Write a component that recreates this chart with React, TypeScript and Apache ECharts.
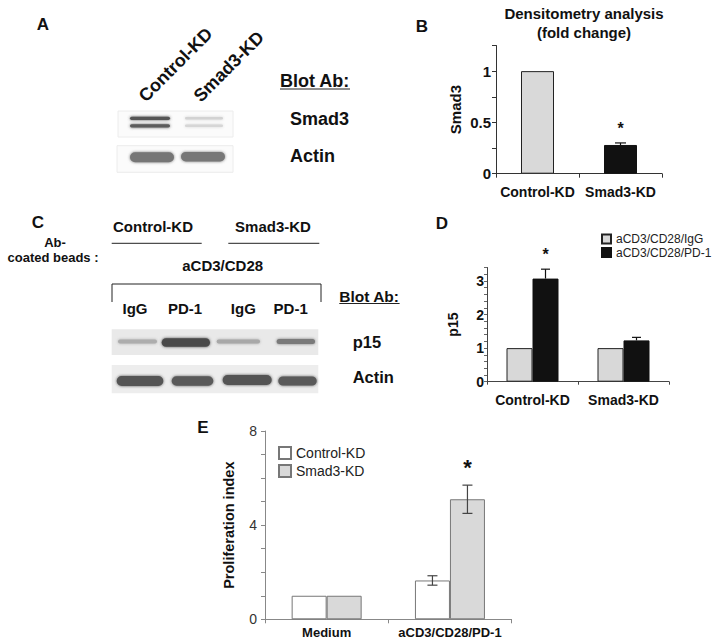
import React, { useEffect, useRef } from "react";
import * as echarts from "echarts";

// ---------- DATA ----------
const bCategories = ["Control-KD", "Smad3-KD"];
const bValues = [1, 0.28];
const bErrors = [0, 0.02];
const bSig = [false, true];
const bTickLabels = [0, 0.5, 1];

const dCategories = ["Control-KD", "Smad3-KD"];
const dSeriesNames = ["aCD3/CD28/IgG", "aCD3/CD28/PD-1"];
const dIgG = [1, 1];
const dPD1 = [3.07, 1.23];
const dPD1Err = [0.28, 0.09];
const dPD1Sig = [true, false];
const dTickLabels = [0, 1, 2, 3];

const eCategories = ["Medium", "aCD3/CD28/PD-1"];
const eSeriesNames = ["Control-KD", "Smad3-KD"];
const eControl = [1, 1.65];
const eControlErr = [0, 0.2];
const eSmad3 = [1, 5.1];
const eSmad3Err = [0, 0.6];
const eSmad3Sig = [false, true];
const eTickLabels = [0, 4, 8];

const FF = '"Liberation Sans", Arial, Helvetica, sans-serif';

const labelOnly = (ticks: number[]) => (v: number) =>
  ticks.some((t) => Math.abs(t - v) < 1e-6) ? String(Math.round(v * 100) / 100) : "";

function errRenderer(barW: number, n: number, both: boolean, cap: number, color: string, starSize: number, starGap: number) {
  return (params: any, api: any) => {
    const cat = api.value(0);
    const val = api.value(1);
    const err = api.value(2);
    const gi = api.value(3);
    const sig = api.value(4);
    const base = api.coord([cat, val]);
    const x = base[0] + (gi - (n - 1) / 2) * barW;
    const yTop = api.coord([cat, val + err])[1];
    const yBot = both ? api.coord([cat, val - err])[1] : base[1];
    const children: any[] = [];
    const ls = { stroke: color, lineWidth: 1.2 };
    if (err > 0) {
      children.push({ type: "line", shape: { x1: x, y1: yTop, x2: x, y2: yBot }, style: ls });
      children.push({ type: "line", shape: { x1: x - cap / 2, y1: yTop, x2: x + cap / 2, y2: yTop }, style: ls });
      if (both)
        children.push({ type: "line", shape: { x1: x - cap / 2, y1: yBot, x2: x + cap / 2, y2: yBot }, style: ls });
    }
    if (sig) {
      children.push({
        type: "text",
        x,
        y: yTop - starGap,
        style: {
          text: "*",
          textAlign: "center",
          textVerticalAlign: "middle",
          fontSize: starSize,
          fontWeight: "bold",
          fontFamily: FF,
          fill: "#111",
        },
      });
    }
    return { type: "group", children };
  };
}

function txt(text: string, x: number, y: number, size: number, opts: any = {}) {
  return {
    type: "text",
    x,
    y,
    rotation: opts.rotation || 0,
    z: 10,
    style: {
      text,
      fontSize: size,
      fontWeight: opts.weight || "bold",
      fontFamily: FF,
      fill: opts.fill || "#111",
      textAlign: opts.align || "center",
      textVerticalAlign: opts.valign || "middle",
    },
  };
}

function hline(x1: number, x2: number, y: number, color = "#222", w = 1) {
  return { type: "line", z: 10, shape: { x1, y1: y, x2, y2: y }, style: { stroke: color, lineWidth: w } };
}

function box(x: number, y: number, w: number, h: number, fill: string, stroke?: string) {
  return {
    type: "rect",
    z: 1,
    shape: { x, y, width: w, height: h },
    style: { fill, stroke: stroke || null, lineWidth: stroke ? 1 : 0 },
  };
}

function band(x1: number, x2: number, yc: number, h: number, color: string) {
  return {
    type: "rect",
    z: 2,
    shape: { x: x1, y: yc - h / 2, width: x2 - x1, height: h, r: h / 2 },
    style: { fill: color, shadowBlur: 3, shadowColor: color },
  };
}

function buildOption() {
  const graphics: any[] = [
    // panel letters
    txt("A", 43, 24, 17),
    txt("B", 422, 26, 17),
    txt("C", 38, 222, 17),
    txt("D", 442, 223, 17),
    txt("E", 203, 427, 17),
    // B title
    txt("Densitometry analysis", 584, 13, 15),
    txt("(fold change)", 584, 32, 15),
    // Panel A
    txt("Control-KD", 148, 105, 18, { align: "left", valign: "bottom", rotation: Math.PI / 4 }),
    txt("Smad3-KD", 203, 105, 18, { align: "left", valign: "bottom", rotation: Math.PI / 4 }),
    box(118, 111, 115, 26, "#fbfbfb", "#ececec"),
    band(130, 170, 118.3, 3.2, "#555"),
    band(130, 170, 125.8, 3.2, "#5c5c5c"),
    band(185, 223, 118.3, 2.6, "#d2d2d2"),
    band(185, 223, 125.8, 2.6, "#d6d6d6"),
    box(117, 145.7, 116, 26.6, "#fbfbfb", "#ececec"),
    band(130, 174, 157.3, 10, "#767676"),
    band(181, 225, 156.7, 9.5, "#777"),
    txt("Blot Ab:", 280, 81, 18, { align: "left" }),
    hline(280, 350, 89, "#222", 1.2),
    txt("Smad3", 290, 119.3, 18, { align: "left" }),
    txt("Actin", 290, 156, 18, { align: "left" }),
    // Panel C
    txt("Ab-", 55, 242, 13),
    txt("coated beads :", 53, 257.5, 13),
    txt("Control-KD", 153, 226, 15),
    txt("Smad3-KD", 273, 226, 15),
    hline(111.7, 201.7, 243.3),
    hline(228.3, 319.3, 243.3),
    txt("aCD3/CD28", 222.7, 265.7, 15),
    {
      type: "polyline",
      z: 10,
      shape: { points: [[112, 302], [112, 284], [321, 284], [321, 302]] },
      style: { stroke: "#222", lineWidth: 1, fill: null },
    },
    txt("IgG", 135, 308.3, 15),
    txt("PD-1", 185, 308.3, 15),
    txt("IgG", 243.3, 308.3, 15),
    txt("PD-1", 290.7, 308.3, 15),
    box(111.7, 329.3, 206.6, 25.7, "#e9e9e9"),
    band(118, 157, 341.5, 4, "#adadad"),
    band(161.7, 210, 342.5, 8.5, "#4a4a4a"),
    band(216.7, 260, 341.5, 4, "#a8a8a8"),
    band(276.7, 315, 341.5, 5, "#7a7a7a"),
    box(111.7, 365, 206.6, 28.3, "#ededed"),
    band(116.7, 163.3, 381, 10, "#555"),
    band(171.7, 213.3, 381, 9.5, "#5a5a5a"),
    band(222.7, 271.7, 380, 10, "#555"),
    band(278.3, 316.7, 381, 9, "#5a5a5a"),
    txt("Blot Ab:", 339.3, 296, 15.5, { align: "left" }),
    hline(339.3, 399.6, 303.5, "#222", 1.2),
    txt("p15", 352.7, 341.7, 16.5, { align: "left" }),
    txt("Actin", 352.7, 377.3, 16.5, { align: "left" }),
  ];

  const axisLineDark = { lineStyle: { color: "#333", width: 1 } };
  const catLabel = (size: number, margin: number) => ({
    fontSize: size,
    fontWeight: "bold",
    fontFamily: FF,
    color: "#111",
    margin,
    interval: 0,
  });

  return {
    animation: false,
    backgroundColor: "#fff",
    graphic: { elements: graphics },
    legend: [
      {
        data: dSeriesNames,
        orient: "vertical",
        left: 596,
        top: 228,
        padding: 5,
        itemWidth: 9,
        itemHeight: 9,
        itemGap: 1.5,
        itemTextGap: 3,
        icon: "rect",
        selectedMode: false,
        textStyle: { fontSize: 12, fontFamily: FF, color: "#222" },
      },
      {
        data: eSeriesNames,
        orient: "vertical",
        left: 273,
        top: 441,
        padding: 5,
        itemWidth: 12,
        itemHeight: 12,
        itemGap: 4,
        itemTextGap: 5,
        icon: "rect",
        selectedMode: false,
        textStyle: { fontSize: 14, fontFamily: FF, color: "#222" },
      },
    ],
    grid: [
      { left: 496, top: 45.5, width: 166, height: 128.2 },
      { left: 487, top: 267.5, width: 182, height: 114.2 },
      { left: 265, top: 431, width: 246.6, height: 188.3 },
    ],
    xAxis: [
      {
        gridIndex: 0,
        type: "category",
        data: bCategories,
        axisLine: axisLineDark,
        axisTick: { show: true, length: 4, lineStyle: { color: "#333" } },
        axisLabel: catLabel(14, 11),
      },
      {
        gridIndex: 1,
        type: "category",
        data: dCategories,
        axisLine: { lineStyle: { color: "#444" } },
        axisTick: { show: true, length: 3, lineStyle: { color: "#444" } },
        axisLabel: catLabel(14, 11),
      },
      {
        gridIndex: 2,
        type: "category",
        data: eCategories,
        axisLine: { lineStyle: { color: "#888" } },
        axisTick: { show: true, length: 4, lineStyle: { color: "#888" } },
        axisLabel: catLabel(13, 7),
      },
    ],
    yAxis: [
      {
        gridIndex: 0,
        type: "value",
        min: 0,
        max: 1.25,
        interval: 0.25,
        name: "Smad3",
        nameLocation: "middle",
        nameGap: 33,
        nameTextStyle: { fontSize: 15, fontWeight: "bold", fontFamily: FF, color: "#111" },
        axisLine: { show: true, lineStyle: { color: "#333" } },
        axisTick: { show: true, length: 4, lineStyle: { color: "#333" } },
        splitLine: { show: false },
        axisLabel: { formatter: labelOnly(bTickLabels), fontSize: 15, fontWeight: "bold", fontFamily: FF, color: "#111", margin: 5 },
      },
      {
        gridIndex: 1,
        type: "value",
        min: 0,
        max: 3.4,
        interval: 0.2,
        name: "p15",
        nameLocation: "middle",
        nameGap: 27,
        nameTextStyle: { fontSize: 14, fontWeight: "bold", fontFamily: FF, color: "#111" },
        axisLine: { show: true, lineStyle: { color: "#444" } },
        axisTick: { show: true, length: 3, lineStyle: { color: "#666" } },
        splitLine: { show: false },
        axisLabel: { formatter: labelOnly(dTickLabels), fontSize: 14, fontWeight: "bold", fontFamily: FF, color: "#111", margin: 3 },
      },
      {
        gridIndex: 2,
        type: "value",
        min: 0,
        max: 8,
        interval: 1,
        name: "Proliferation index",
        nameLocation: "middle",
        nameGap: 28.5,
        nameTextStyle: { fontSize: 14.5, fontWeight: "bold", fontFamily: FF, color: "#111" },
        axisLine: { show: true, lineStyle: { color: "#888" } },
        axisTick: { show: true, length: 4, lineStyle: { color: "#888" } },
        splitLine: { show: false },
        axisLabel: { formatter: labelOnly(eTickLabels), fontSize: 14, fontFamily: FF, color: "#333", margin: 8 },
      },
    ],
    series: [
      {
        type: "bar",
        name: "Smad3",
        xAxisIndex: 0,
        yAxisIndex: 0,
        barWidth: 33,
        data: bValues.map((v, i) => ({
          value: v,
          itemStyle: i === 0 ? { color: "#d9d9d9", borderColor: "#222", borderWidth: 1 } : { color: "#111", borderColor: "#111", borderWidth: 1 },
        })),
      },
      {
        type: "custom",
        xAxisIndex: 0,
        yAxisIndex: 0,
        z: 5,
        renderItem: errRenderer(33, 1, false, 11, "#111", 16, 14),
        data: bValues.map((v, i) => [i, v, bErrors[i], 0, bSig[i] ? 1 : 0]),
      },
      {
        type: "bar",
        name: dSeriesNames[0],
        xAxisIndex: 1,
        yAxisIndex: 1,
        barWidth: 26,
        barGap: "0%",
        itemStyle: { color: "#d8d8d8", borderColor: "#222", borderWidth: 1 },
        data: dIgG,
      },
      {
        type: "bar",
        name: dSeriesNames[1],
        xAxisIndex: 1,
        yAxisIndex: 1,
        barWidth: 26,
        barGap: "0%",
        itemStyle: { color: "#111", borderColor: "#111", borderWidth: 1 },
        data: dPD1,
      },
      {
        type: "custom",
        xAxisIndex: 1,
        yAxisIndex: 1,
        z: 5,
        renderItem: errRenderer(26, 2, false, 9, "#111", 16, 15),
        data: dPD1.map((v, i) => [i, v, dPD1Err[i], 1, dPD1Sig[i] ? 1 : 0]),
      },
      {
        type: "bar",
        name: eSeriesNames[0],
        xAxisIndex: 2,
        yAxisIndex: 2,
        barWidth: 35,
        barGap: "0%",
        itemStyle: { color: "#ffffff", borderColor: "#777", borderWidth: 1 },
        data: eControl,
      },
      {
        type: "bar",
        name: eSeriesNames[1],
        xAxisIndex: 2,
        yAxisIndex: 2,
        barWidth: 35,
        barGap: "0%",
        itemStyle: { color: "#d9d9d9", borderColor: "#777", borderWidth: 1 },
        data: eSmad3,
      },
      {
        type: "custom",
        xAxisIndex: 2,
        yAxisIndex: 2,
        z: 5,
        renderItem: errRenderer(35, 2, true, 10, "#444", 22, 18),
        data: [
          ...eControl.map((v, i) => [i, v, eControlErr[i], 0, 0]),
          ...eSmad3.map((v, i) => [i, v, eSmad3Err[i], 1, eSmad3Sig[i] ? 1 : 0]),
        ],
      },
    ],
  };
}

export default function App() {
  const ref = useRef<HTMLDivElement>(null);
  useEffect(() => {
    if (!ref.current) return;
    const chart = echarts.init(ref.current, null, { renderer: "svg" });
    chart.setOption(buildOption() as any);
    return () => chart.dispose();
  }, []);
  return (
    <div
      ref={ref}
      style={{ position: "absolute", left: 0, top: 0, width: 714, height: 644, background: "#fff" }}
    />
  );
}
